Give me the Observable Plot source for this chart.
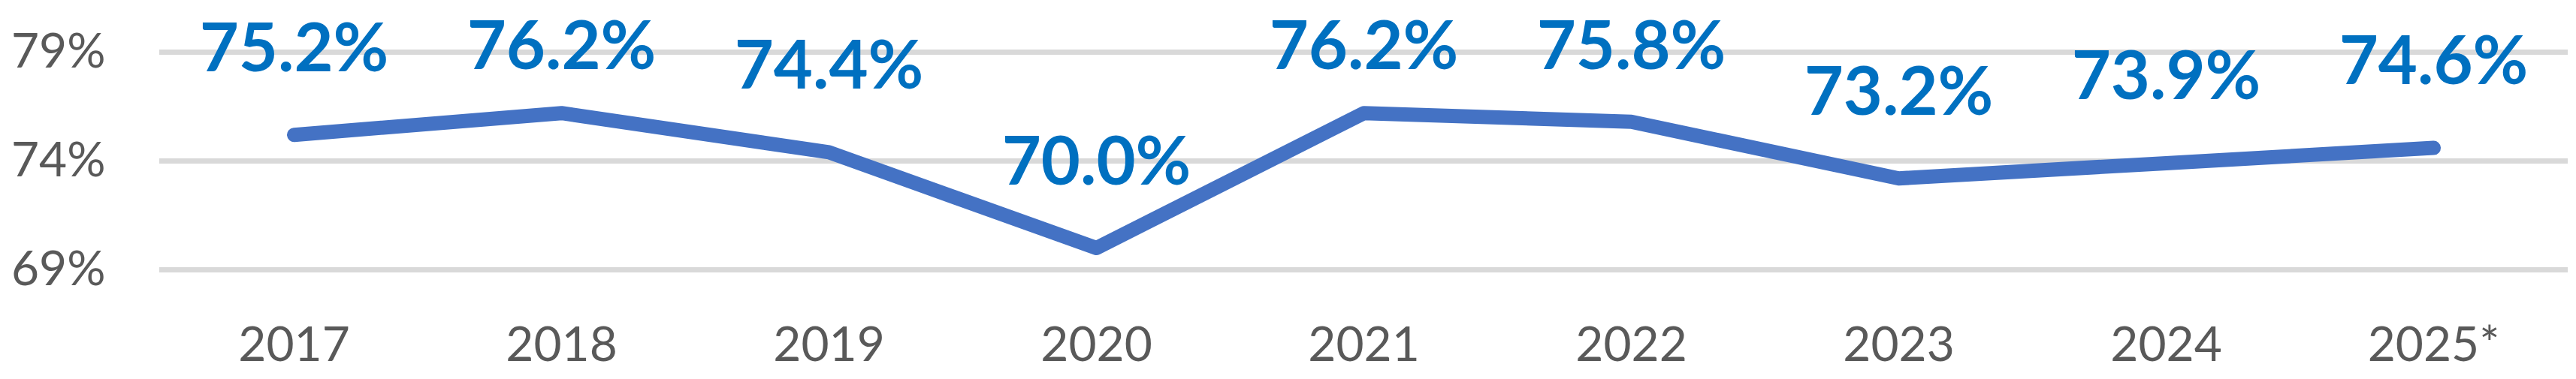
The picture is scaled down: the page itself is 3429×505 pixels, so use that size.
<!DOCTYPE html>
<html>
<head>
<meta charset="utf-8">
<script src="https://cdn.jsdelivr.net/npm/d3@7"></script>
<script src="https://cdn.jsdelivr.net/npm/@observablehq/plot@0.6"></script>
<style>
  html, body { margin: 0; padding: 0; background: #fff; }
</style>
</head>
<body>
<div id="chart"></div>
<script>
const years = ["2017", "2018", "2019", "2020", "2021", "2022", "2023", "2024", "2025*"];
const values = [75.2, 76.2, 74.4, 70.0, 76.2, 75.8, 73.2, 73.9, 74.6];
const yTicks = [69, 74, 79];
// labels that would leave the chart area are pushed down (as the spreadsheet does)
const labelCeiling = 75.3;

const data = years.map((year, i) => ({year, value: values[i], labelY: Math.min(values[i], labelCeiling)}));

const chart = Plot.plot({
  width: 3429,
  height: 505,
  marginLeft: 212,
  marginRight: 11,
  marginTop: 69,
  marginBottom: 146,
  style: {fontFamily: "Lato, 'Open Sans', sans-serif", fontSize: "64px", color: "#595959", background: "#fff"},
  x: {type: "point", domain: years, padding: 0.5, label: null},
  y: {domain: [69, 79], label: null},
  marks: [
    Plot.ruleY(yTicks, {stroke: "#D9D9D9", strokeWidth: 7}),
    Plot.axisY(yTicks, {tickSize: 0, tickPadding: 72, tickFormat: d => d + "%", fill: "#595959", fontSize: 64}),
    Plot.axisX({tickSize: 0, tickPadding: 76, fill: "#595959", fontSize: 64}),
    Plot.line(data, {x: "year", y: "value", stroke: "#4472C4", strokeWidth: 19, strokeLinecap: "round", strokeLinejoin: "round"}),
    Plot.text(data, {x: "year", y: "labelY", text: d => d.value.toFixed(1) + "%", fill: "#0070C0", fontSize: 90, fontWeight: "bold", lineAnchor: "bottom", dy: -85})
  ]
});
document.getElementById("chart").appendChild(chart);
</script>
</body>
</html>
